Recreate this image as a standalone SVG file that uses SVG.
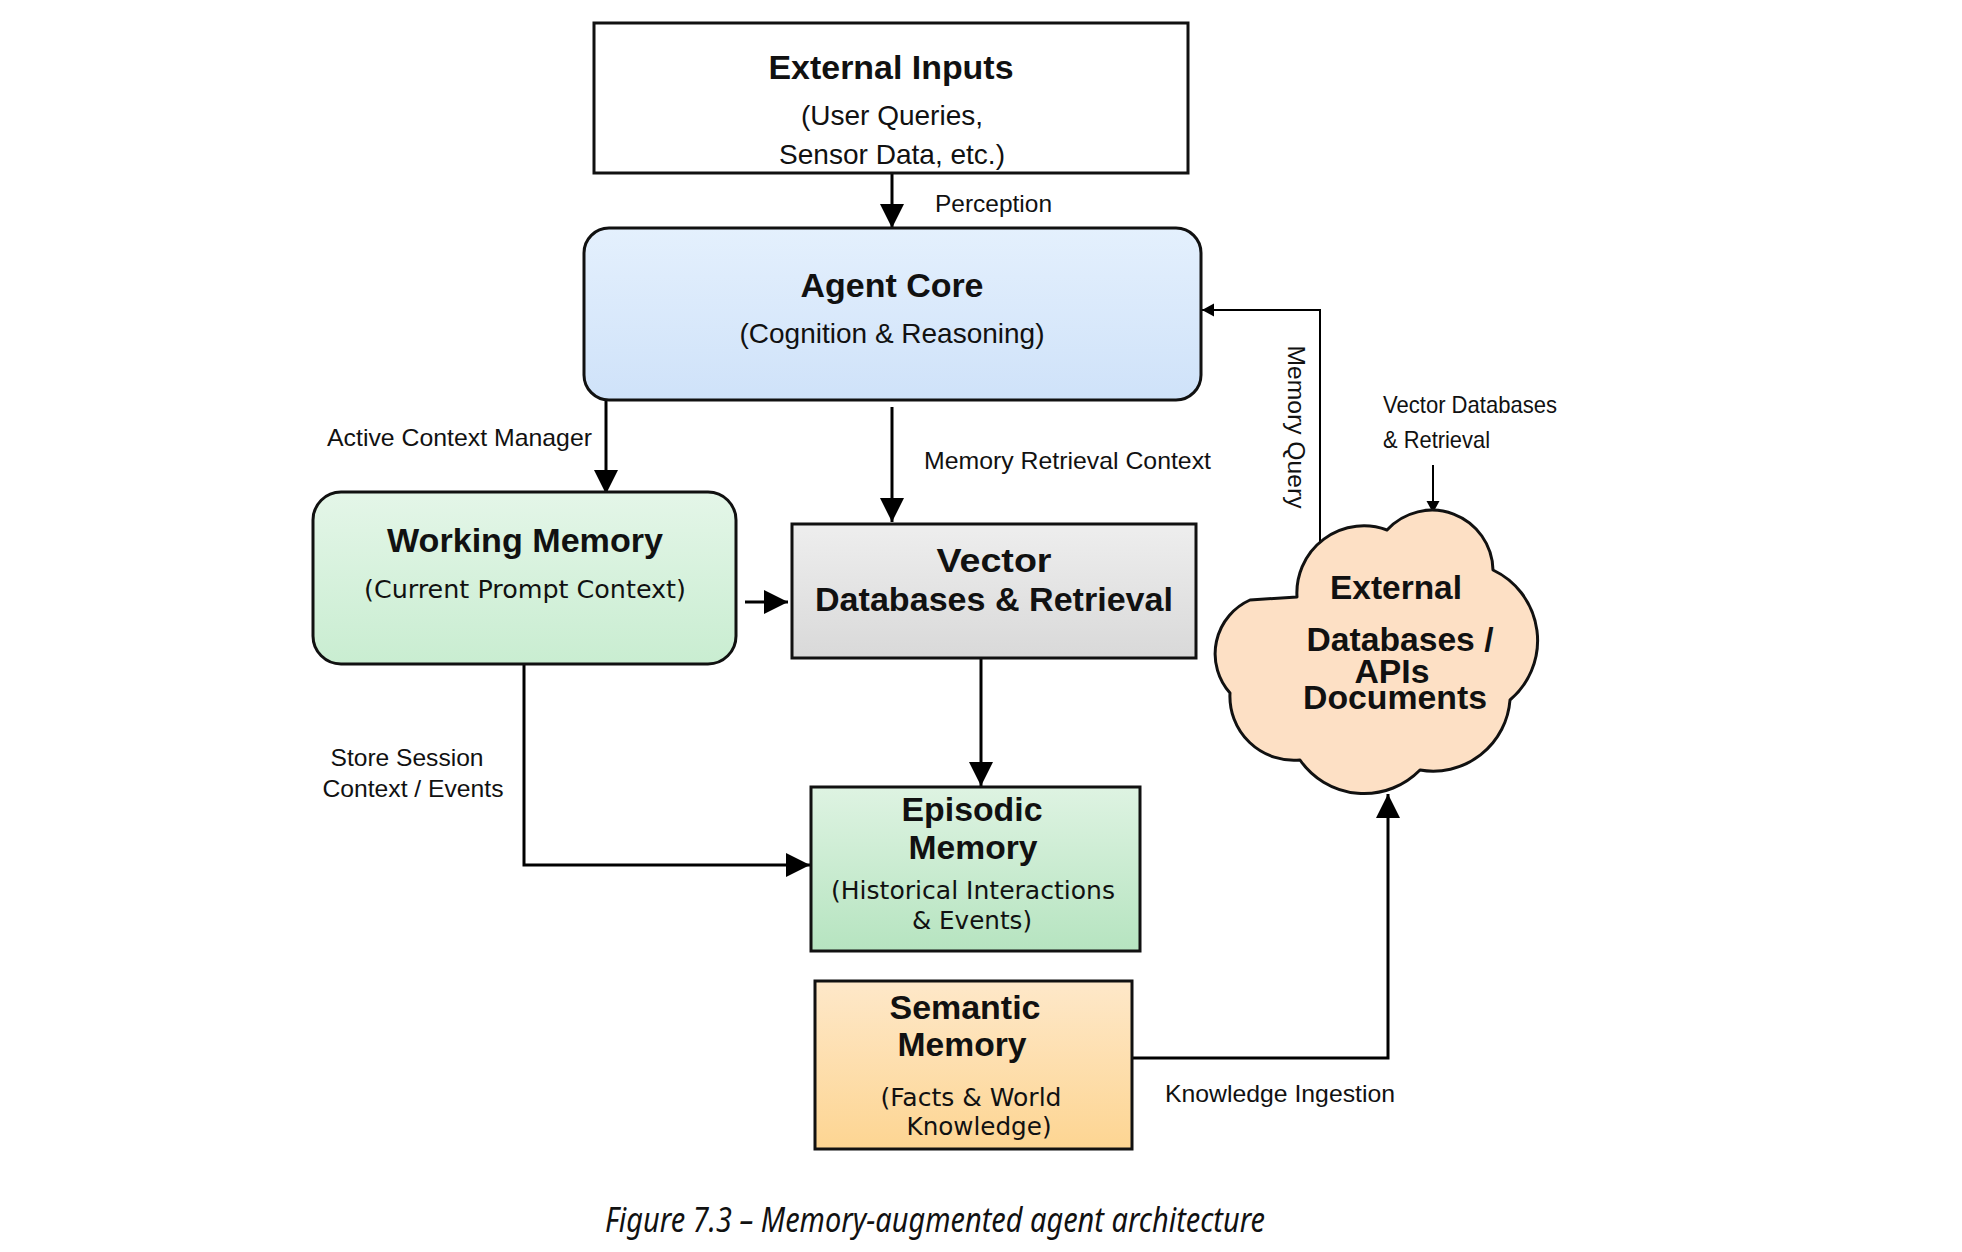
<svg xmlns="http://www.w3.org/2000/svg" width="1962" height="1252" viewBox="0 0 1962 1252">
<defs>
<linearGradient id="gBlue" x1="0" y1="0" x2="0" y2="1"><stop offset="0" stop-color="#e4f0fd"/><stop offset="1" stop-color="#cfe2f9"/></linearGradient>
<linearGradient id="gGreen1" x1="0" y1="0" x2="0" y2="1"><stop offset="0" stop-color="#e4f6e8"/><stop offset="1" stop-color="#c9edd1"/></linearGradient>
<linearGradient id="gGray" x1="0" y1="0" x2="0" y2="1"><stop offset="0" stop-color="#eeeeee"/><stop offset="1" stop-color="#d9d9d9"/></linearGradient>
<linearGradient id="gGreen2" x1="0" y1="0" x2="0" y2="1"><stop offset="0" stop-color="#def3e2"/><stop offset="1" stop-color="#b6e4c0"/></linearGradient>
<linearGradient id="gOrange" x1="0" y1="0" x2="0" y2="1"><stop offset="0" stop-color="#fee8c9"/><stop offset="1" stop-color="#fdd592"/></linearGradient>
<marker id="big" markerUnits="userSpaceOnUse" markerWidth="26" markerHeight="26" refX="24" refY="12" orient="auto"><path d="M0,0 L24,12 L0,24 z" fill="#000"/></marker>
<marker id="small" markerUnits="userSpaceOnUse" markerWidth="14" markerHeight="14" refX="12" refY="6.5" orient="auto"><path d="M0,0 L12,6.5 L0,13 z" fill="#000"/></marker>
<style>
.box{stroke:#111;stroke-width:3}
.t{font-family:"Liberation Sans",Arial,sans-serif;font-weight:bold;font-size:34px;fill:#111;text-anchor:middle}
.s{font-family:"Liberation Sans",Arial,sans-serif;font-size:28px;fill:#111;text-anchor:middle}
.h{font-family:"DejaVu Sans",Verdana,sans-serif;font-size:24px;fill:#111;text-anchor:middle}
.l{font-family:"Liberation Sans",Arial,sans-serif;font-size:24px;fill:#111}
.c{fill:none;stroke:#000;stroke-width:3}
.thin{fill:none;stroke:#000;stroke-width:2}
.cap{font-family:"Noto Sans","Open Sans",sans-serif;font-style:italic;font-size:34px;fill:#111;text-anchor:middle}
</style>
</defs>
<rect width="1962" height="1252" fill="#fff"/>

<g id="connectors">
<path class="c" d="M892,173 L892,228" marker-end="url(#big)"/>
<path class="c" d="M606,401 L606,494" marker-end="url(#big)"/>
<path class="c" d="M892,407 L892,522" marker-end="url(#big)"/>
<path class="c" d="M745,602 L788,602" marker-end="url(#big)"/>
<path class="c" d="M981,658 L981,786" marker-end="url(#big)"/>
<path class="c" d="M524,664 L524,865 L810,865" marker-end="url(#big)"/>
<path class="c" d="M1132,1058 L1388,1058 L1388,794" marker-end="url(#big)"/>
<path class="thin" d="M1320,560 L1320,310 L1202,310" marker-end="url(#small)"/>
<path class="thin" d="M1433,465 L1433,513" marker-end="url(#small)"/>
<text class="l" x="935" y="212" textLength="117" lengthAdjust="spacingAndGlyphs">Perception</text>
<text class="l" x="592" y="446" text-anchor="end" textLength="265" lengthAdjust="spacingAndGlyphs">Active Context Manager</text>
<text class="l" x="924" y="469" textLength="287" lengthAdjust="spacingAndGlyphs">Memory Retrieval Context</text>
<text class="l" x="407" y="766" text-anchor="middle" textLength="153" lengthAdjust="spacingAndGlyphs">Store Session</text>
<text class="l" x="413" y="797" text-anchor="middle" textLength="181" lengthAdjust="spacingAndGlyphs">Context / Events</text>
<text class="l" x="1165" y="1102" textLength="230" lengthAdjust="spacingAndGlyphs">Knowledge Ingestion</text>
<text class="l" transform="translate(1288,427) rotate(90)" text-anchor="middle" textLength="163" lengthAdjust="spacingAndGlyphs">Memory Query</text>
<text class="l" x="1383" y="413" font-size="25" textLength="174" lengthAdjust="spacingAndGlyphs">Vector Databases</text>
<text class="l" x="1383" y="448" font-size="25" textLength="107" lengthAdjust="spacingAndGlyphs">&amp; Retrieval</text>
</g>

<g id="external-inputs">
<rect class="box" x="594" y="23" width="594" height="150" fill="#fff"/>
<text class="t" x="891" y="79" textLength="245" lengthAdjust="spacingAndGlyphs">External Inputs</text>
<text class="s" x="892" y="125" textLength="182" lengthAdjust="spacingAndGlyphs">(User Queries,</text>
<text class="s" x="892" y="164" textLength="226" lengthAdjust="spacingAndGlyphs">Sensor Data, etc.)</text>
</g>

<g id="agent-core">
<rect class="box" x="584" y="228" width="617" height="172" rx="25" fill="url(#gBlue)"/>
<text class="t" x="892" y="297" textLength="183" lengthAdjust="spacingAndGlyphs">Agent Core</text>
<text class="s" x="892" y="343" textLength="305" lengthAdjust="spacingAndGlyphs">(Cognition &amp; Reasoning)</text>
</g>

<g id="working-memory">
<rect class="box" x="313" y="492" width="423" height="172" rx="28" fill="url(#gGreen1)"/>
<text class="t" x="525" y="552" textLength="276" lengthAdjust="spacingAndGlyphs">Working Memory</text>
<text class="h" x="525" y="598" textLength="322" lengthAdjust="spacingAndGlyphs">(Current Prompt Context)</text>
</g>

<g id="vector-db">
<rect class="box" x="792" y="524" width="404" height="134" fill="url(#gGray)"/>
<text class="t" x="994" y="572" textLength="115" lengthAdjust="spacingAndGlyphs">Vector</text>
<text class="t" x="994" y="611" textLength="358" lengthAdjust="spacingAndGlyphs">Databases &amp; Retrieval</text>
</g>

<g id="episodic-memory">
<rect class="box" x="811" y="787" width="329" height="164" fill="url(#gGreen2)"/>
<text class="t" x="972" y="821" textLength="141" lengthAdjust="spacingAndGlyphs">Episodic</text>
<text class="t" x="973" y="859" textLength="129" lengthAdjust="spacingAndGlyphs">Memory</text>
<text class="h" x="973" y="899" textLength="284" lengthAdjust="spacingAndGlyphs">(Historical Interactions</text>
<text class="h" x="972" y="929" textLength="120" lengthAdjust="spacingAndGlyphs">&amp; Events)</text>
</g>

<g id="semantic-memory">
<rect class="box" x="815" y="981" width="317" height="168" fill="url(#gOrange)"/>
<text class="t" x="965" y="1019" textLength="151" lengthAdjust="spacingAndGlyphs">Semantic</text>
<text class="t" x="962" y="1056" textLength="129" lengthAdjust="spacingAndGlyphs">Memory</text>
<text class="h" x="971" y="1106" textLength="181" lengthAdjust="spacingAndGlyphs">(Facts &amp; World</text>
<text class="h" x="979" y="1135" textLength="145" lengthAdjust="spacingAndGlyphs">Knowledge)</text>
</g>

<g id="external-databases">
<path d="M1297,597 A67,67 0 0 1 1387,530 A61,61 0 0 1 1493,570 A78,78 0 0 1 1510,700 A77,77 0 0 1 1420,770 A78,78 0 0 1 1300,760 A64,64 0 0 1 1230,693 A59,59 0 0 1 1250,600 Z" fill="#fde0c5" stroke="#111" stroke-width="3" stroke-linejoin="round"/>
<text class="t" x="1396" y="599" textLength="132" lengthAdjust="spacingAndGlyphs">External</text>
<text class="t" x="1400" y="651" textLength="187" lengthAdjust="spacingAndGlyphs">Databases /</text>
<text class="t" x="1392" y="683" textLength="75" lengthAdjust="spacingAndGlyphs">APIs</text>
<text class="t" x="1395" y="709" textLength="184" lengthAdjust="spacingAndGlyphs">Documents</text>
</g>

<text class="cap" x="935" y="1232" textLength="660" lengthAdjust="spacingAndGlyphs">Figure 7.3 – Memory-augmented agent architecture</text>
</svg>
